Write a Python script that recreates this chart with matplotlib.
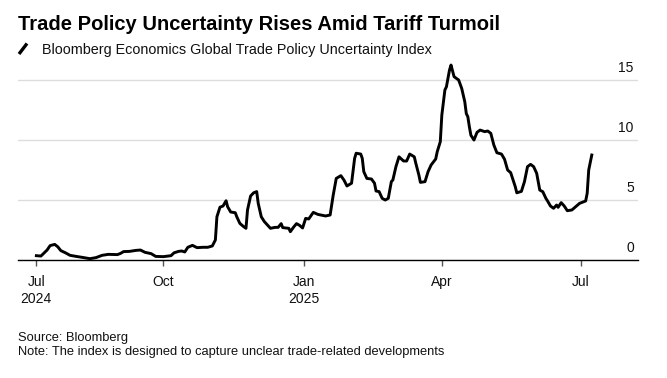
import pandas as pd
import matplotlib
matplotlib.use('Agg')
import matplotlib.pyplot as plt
import matplotlib.dates as mdates
from matplotlib.lines import Line2D
from matplotlib.transforms import ScaledTranslation

# Bloomberg Economics Global Trade Policy Uncertainty Index
dates = [
    '2024-07-10', '2024-07-13', '2024-07-17', '2024-07-19', '2024-07-22', '2024-07-24',
    '2024-07-26', '2024-07-29', '2024-08-01', '2024-08-05', '2024-08-09', '2024-08-14',
    '2024-08-18', '2024-08-22', '2024-08-26', '2024-09-01', '2024-09-03', '2024-09-05',
    '2024-09-09', '2024-09-13', '2024-09-16', '2024-09-19', '2024-09-23', '2024-09-26',
    '2024-10-01', '2024-10-06', '2024-10-08', '2024-10-11', '2024-10-13', '2024-10-15',
    '2024-10-17', '2024-10-20', '2024-10-23', '2024-10-27', '2024-10-30', '2024-11-02',
    '2024-11-04', '2024-11-05', '2024-11-07', '2024-11-09', '2024-11-11', '2024-11-12',
    '2024-11-14', '2024-11-17', '2024-11-18', '2024-11-20', '2024-11-22', '2024-11-24',
    '2024-11-25', '2024-11-27', '2024-11-29', '2024-12-01', '2024-12-02', '2024-12-04',
    '2024-12-06', '2024-12-10', '2024-12-13', '2024-12-15', '2024-12-17', '2024-12-18',
    '2024-12-22', '2024-12-23', '2024-12-25', '2024-12-27', '2024-12-29', '2024-12-31',
    '2025-01-02', '2025-01-04', '2025-01-07', '2025-01-10', '2025-01-15', '2025-01-18',
    '2025-01-20', '2025-01-22', '2025-01-25', '2025-01-27', '2025-01-29', '2025-02-01',
    '2025-02-03', '2025-02-04', '2025-02-07', '2025-02-08', '2025-02-09', '2025-02-11',
    '2025-02-14', '2025-02-16', '2025-02-17', '2025-02-19', '2025-02-21', '2025-02-23',
    '2025-02-25', '2025-02-27', '2025-02-28', '2025-03-02', '2025-03-04', '2025-03-07',
    '2025-03-09', '2025-03-11', '2025-03-14', '2025-03-15', '2025-03-17', '2025-03-18',
    '2025-03-21', '2025-03-23', '2025-03-25', '2025-03-28', '2025-03-29', '2025-03-31',
    '2025-04-01', '2025-04-03', '2025-04-04', '2025-04-06', '2025-04-07', '2025-04-09',
    '2025-04-12', '2025-04-14', '2025-04-16', '2025-04-17', '2025-04-18', '2025-04-19',
    '2025-04-20', '2025-04-22', '2025-04-24', '2025-04-26', '2025-04-29', '2025-05-01',
    '2025-05-03', '2025-05-05', '2025-05-07', '2025-05-10', '2025-05-12', '2025-05-14',
    '2025-05-16', '2025-05-19', '2025-05-20', '2025-05-23', '2025-05-25', '2025-05-27',
    '2025-05-29', '2025-05-31', '2025-06-02', '2025-06-04', '2025-06-06', '2025-06-08',
    '2025-06-09', '2025-06-11', '2025-06-13', '2025-06-15', '2025-06-16', '2025-06-18',
    '2025-06-20', '2025-06-22', '2025-06-25', '2025-06-28', '2025-06-30', '2025-07-04',
    '2025-07-05', '2025-07-06', '2025-07-08',
]
index_values = [
    0.36, 0.33, 0.83, 1.20, 1.30, 1.10,
    0.78, 0.60, 0.39, 0.30, 0.22, 0.11,
    0.20, 0.39, 0.47, 0.45, 0.55, 0.70,
    0.72, 0.80, 0.83, 0.64, 0.53, 0.30,
    0.28, 0.36, 0.60, 0.72, 0.75, 0.67,
    1.06, 1.22, 1.03, 1.06, 1.06, 1.17,
    1.67, 3.60, 4.40, 4.50, 4.94, 4.44,
    4.00, 3.94, 3.60, 3.05, 2.83, 2.64,
    4.17, 5.33, 5.60, 5.70, 4.72, 3.60,
    3.20, 2.64, 2.72, 2.72, 3.03, 2.70,
    2.64, 2.36, 2.72, 3.03, 2.89, 2.67,
    3.47, 3.42, 3.97, 3.80, 3.67, 3.75,
    5.40, 6.80, 7.03, 6.67, 6.17, 6.40,
    8.47, 8.90, 8.83, 8.47, 7.36, 6.80,
    6.75, 6.40, 5.75, 5.70, 5.14, 5.00,
    5.14, 6.53, 6.67, 7.78, 8.60, 8.25,
    8.25, 8.83, 8.60, 8.06, 7.08, 6.47,
    6.53, 7.36, 7.92, 8.42, 9.03, 9.86,
    12.08, 14.17, 14.44, 15.83, 16.25, 15.28,
    15.00, 14.30, 13.19, 12.20, 11.94, 11.10,
    10.40, 10.00, 10.64, 10.83, 10.70, 10.75,
    10.56, 9.58, 8.94, 8.83, 8.39, 7.50,
    7.28, 6.11, 5.60, 5.72, 6.53, 7.78,
    7.97, 7.78, 7.22, 5.83, 5.69, 5.14,
    4.94, 4.50, 4.31, 4.58, 4.39, 4.78,
    4.50, 4.11, 4.17, 4.50, 4.72, 4.92,
    5.56, 7.50, 8.75,
]

tick_dates = ['2024-07-10', '2024-10-01', '2025-01-01', '2025-04-01', '2025-07-01']
tick_labels = ['Jul\n2024', 'Oct', 'Jan\n2025', 'Apr', 'Jul']
y_ticks = [0, 5, 10, 15]

title = 'Trade Policy Uncertainty Rises Amid Tariff Turmoil'
subtitle = 'Bloomberg Economics Global Trade Policy Uncertainty Index'
source = 'Source: Bloomberg'
note = 'Note: The index is designed to capture unclear trade-related developments'

plt.rcParams['font.family'] = ['Liberation Sans', 'DejaVu Sans']

W, H = 667, 378
fig = plt.figure(figsize=(W / 100, H / 100), dpi=100)
fig.patch.set_facecolor('white')

# plot area in pixel terms: x 18..638, y 60..260
ax = fig.add_axes([18 / W, (H - 260) / H, 620 / W, 200 / H])

x = pd.to_datetime(dates)
ax.plot(x, index_values, color='black', lw=2.1, solid_joinstyle='round', zorder=3)

ax.set_xlim(pd.Timestamp('2024-06-28 00:00'), pd.Timestamp('2025-08-07 05:00'))
ax.set_ylim(0, 16.67)

for side in ['top', 'left', 'right']:
    ax.spines[side].set_visible(False)
ax.spines['bottom'].set_color('black')
ax.spines['bottom'].set_linewidth(1.0)
ax.spines['bottom'].set_zorder(4)

# x axis
ax.set_xticks(mdates.date2num(pd.to_datetime(tick_dates)))
ax.set_xticklabels(tick_labels)
ax.tick_params(axis='x', length=4, width=1, color='#555555', pad=6.5,
               labelsize=10, labelcolor='#111111')
for lbl in ax.get_xticklabels():
    lbl.set_linespacing(1.3)

# y axis: labels on the right, sitting just above each gridline
ax.yaxis.tick_right()
ax.set_yticks(y_ticks)
ax.set_yticklabels([str(v) for v in y_ticks])
ax.tick_params(axis='y', length=0, pad=-3, labelsize=10, labelcolor='#111111')
shift = ScaledTranslation(0, 8.5 / 100, fig.dpi_scale_trans)
for lbl in ax.get_yticklabels():
    lbl.set_horizontalalignment('right')
    lbl.set_verticalalignment('baseline')
    lbl.set_transform(lbl.get_transform() + shift)

ax.grid(axis='y', color='#dddddd', lw=1)
ax.grid(axis='x', visible=False)
ax.set_axisbelow(True)

# header
fig.text(18 / W, 1 - 29.5 / H, title, fontsize=14.5, fontweight='bold',
         va='baseline', ha='left', color='black')
fig.add_artist(Line2D([19 / W, 27 / W], [1 - 54 / H, 1 - 43.5 / H],
                      color='black', lw=2.4, solid_capstyle='butt'))
fig.text(41.5 / W, 1 - 54 / H, subtitle, fontsize=10.4, va='baseline',
         ha='left', color='#111111')

# footer
fig.text(18 / W, 1 - 340.7 / H, source, fontsize=9.3, va='baseline', ha='left', color='#111111')
fig.text(18 / W, 1 - 355 / H, note, fontsize=9.3, va='baseline', ha='left', color='#111111')

fig.savefig('out.png', dpi=100, facecolor='white')
